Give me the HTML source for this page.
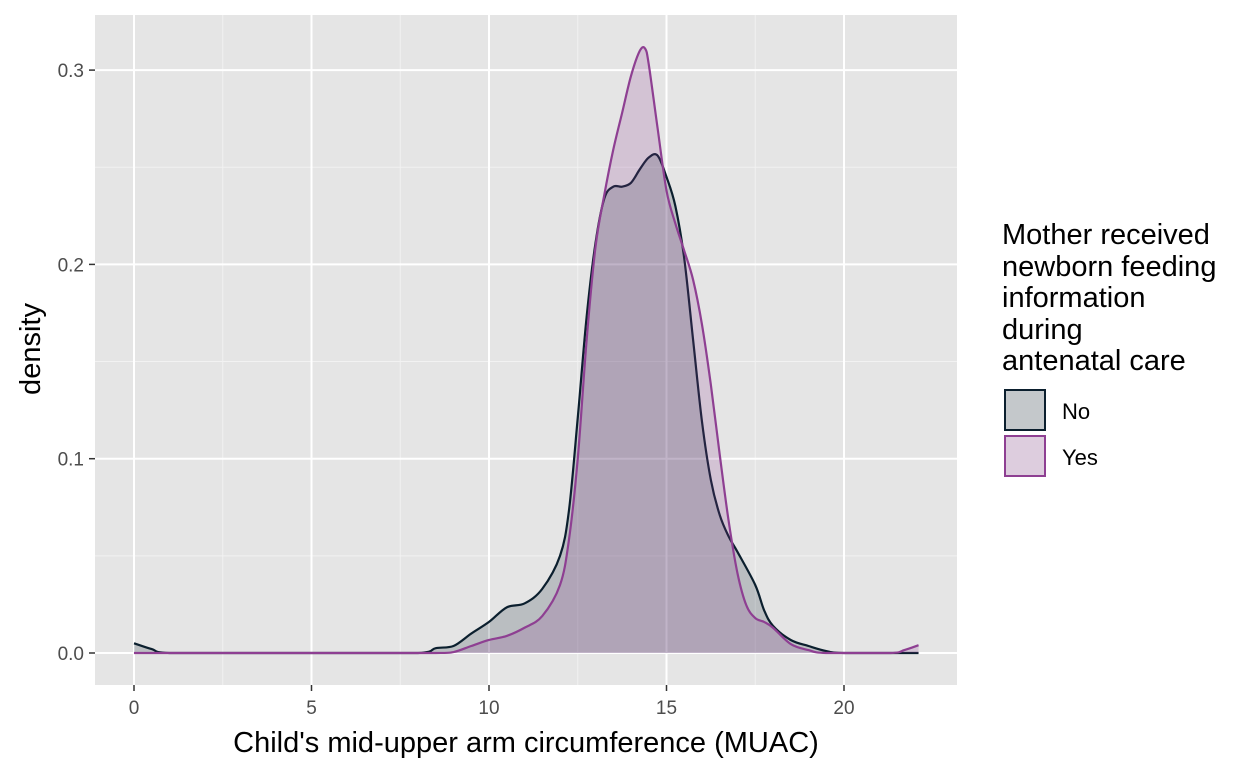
<!DOCTYPE html>
<html><head><meta charset="utf-8"><style>
body{margin:0;background:#fff;font-family:"Liberation Sans",Arial,sans-serif}
svg text{font-family:"Liberation Sans",Arial,sans-serif}
</style></head><body>
<svg id="chart" width="1248" height="768" viewBox="0 0 1248 768">
<rect x="95" y="15" width="862" height="670" fill="#e5e5e5"/>
<g id="grid"></g>
<g id="series"></g>
<g id="axes"></g>
<text x="526" y="752" font-size="29" text-anchor="middle" fill="#000">Child's mid-upper arm circumference (MUAC)</text>
<text transform="translate(40,349) rotate(-90)" font-size="29" text-anchor="middle" fill="#000">density</text>
<g>
<text font-size="29" fill="#000">
<tspan x="1002" y="244">Mother received</tspan><tspan x="1002" y="276">newborn feeding</tspan><tspan x="1002" y="307">information</tspan><tspan x="1002" y="339">during</tspan><tspan x="1002" y="370">antenatal care</tspan></text>
<rect x="1004" y="389" width="42" height="42" fill="#f2f2f2"/>
<rect x="1005" y="390" width="40" height="40" fill="rgba(13,34,51,0.2)" stroke="#0b1f2e" stroke-width="2"/>
<text x="1062" y="419" font-size="22">No</text>
<rect x="1004" y="435" width="42" height="42" fill="#f2f2f2"/>
<rect x="1005" y="436" width="40" height="40" fill="rgba(139,58,143,0.2)" stroke="#8e3f92" stroke-width="2"/>
<text x="1062" y="465" font-size="22">Yes</text>
</g>
</svg>
<script>
const xTicks=[0,5,10,15,20];
const yTicks=[0,0.1,0.2,0.3];
const yTickLabels=["0.0","0.1","0.2","0.3"];
const noX=[0,0.5,1,8,8.5,9,9.5,10,10.5,11,11.5,12,12.25,12.5,12.75,13,13.25,13.5,13.75,14,14.25,14.5,14.75,15,15.25,15.5,15.75,16,16.25,16.5,16.75,17,17.5,17.75,18,18.5,19,19.5,20,22.1];
const noY=[0.005,0.002,0,0,0.0025,0.0036,0.01,0.016,0.0235,0.0255,0.033,0.05,0.073,0.121,0.173,0.211,0.234,0.240,0.240,0.242,0.249,0.255,0.256,0.245,0.23,0.203,0.161,0.119,0.089,0.071,0.060,0.052,0.035,0.022,0.014,0.0067,0.0036,0.001,0,0];
const yesX=[0,8.5,9,9.5,10,10.5,11,11.5,12,12.25,12.5,12.75,13,13.25,13.5,13.75,14,14.25,14.4,14.5,14.75,15,15.25,15.5,15.75,16,16.25,16.5,16.75,17,17.25,17.5,17.75,18,18.5,19,19.5,21.3,21.7,22.1];
const yesY=[0,0,0.0005,0.0036,0.0067,0.0088,0.013,0.019,0.035,0.058,0.10,0.161,0.209,0.236,0.259,0.278,0.297,0.310,0.311,0.303,0.27,0.238,0.221,0.207,0.192,0.169,0.138,0.102,0.068,0.041,0.0245,0.018,0.016,0.013,0.0046,0.0015,0,0,0.0015,0.004];
const NS='http://www.w3.org/2000/svg';
const sx=v=>134+v*35.5, sy=v=>653-v*1943;
function mk(t,a,p){const e=document.createElementNS(NS,t);for(const k in a)e.setAttribute(k,a[k]);p.appendChild(e);return e;}
const grid=document.getElementById('grid'),axes=document.getElementById('axes'),ser=document.getElementById('series');
for(let i=0;i<xTicks.length-1;i++){const m=(xTicks[i]+xTicks[i+1])/2;const l=mk('line',{x1:sx(m),x2:sx(m),y1:15,y2:685,stroke:'#f2f2f2','stroke-width':1},grid);

}
for(let i=0;i<yTicks.length-1;i++){const m=(yTicks[i]+yTicks[i+1])/2;const l=mk('line',{x1:95,x2:957,y1:sy(m),y2:sy(m),stroke:'#f2f2f2','stroke-width':1},grid);

}
xTicks.forEach(v=>{const l=mk('line',{x1:sx(v),x2:sx(v),y1:15,y2:685,stroke:'#fff','stroke-width':2},grid);


const t=mk('line',{x1:sx(v),x2:sx(v),y1:685,y2:691,stroke:'#333','stroke-width':1.5},axes);


const tx=mk('text',{x:sx(v),y:714,'font-size':19,'text-anchor':'middle',fill:'#4d4d4d'},axes);tx.textContent=v;

});
yTicks.forEach((v,i)=>{const l=mk('line',{x1:95,x2:957,y1:sy(v),y2:sy(v),stroke:'#fff','stroke-width':2},grid);


const t=mk('line',{x1:89,x2:95,y1:sy(v),y2:sy(v),stroke:'#333','stroke-width':1.5},axes);


const tx=mk('text',{x:84,y:sy(v)+7,'font-size':19,'text-anchor':'end',fill:'#4d4d4d'},axes);tx.textContent=yTickLabels[i];

});
function smooth(xs,ys){const p=xs.map((x,i)=>[sx(x),sy(ys[i])]);let d='M'+p[0][0]+','+p[0][1];
for(let i=0;i<p.length-1;i++){const p0=p[Math.max(0,i-1)],p1=p[i],p2=p[i+1],p3=p[Math.min(p.length-1,i+2)];
const c1=[p1[0]+(p2[0]-p0[0])/6,p1[1]+(p2[1]-p0[1])/6],c2=[p2[0]-(p3[0]-p1[0])/6,p2[1]-(p3[1]-p1[1])/6];
c1[0]=Math.min(Math.max(c1[0],p1[0]),p2[0]);c2[0]=Math.min(Math.max(c2[0],p1[0]),p2[0]);
c1[1]=Math.min(c1[1],sy(0));c2[1]=Math.min(c2[1],sy(0));
d+=' C'+c1[0]+','+c1[1]+' '+c2[0]+','+c2[1]+' '+p2[0]+','+p2[1];}return d;}
function draw(xs,ys,fill,stroke,name){const d=smooth(xs,ys);
const a=mk('path',{d:d+' L'+sx(xs[xs.length-1])+','+sy(0)+' L'+sx(xs[0])+','+sy(0)+' Z',fill:fill},ser);


const l=mk('path',{d:d,fill:'none',stroke:stroke,'stroke-width':2.2},ser);

}
draw(noX,noY,'rgba(13,34,51,0.2)','#0b1f2e','density-no');
draw(yesX,yesY,'rgba(139,58,143,0.2)','#8e3f92','density-yes');
</script>
</body></html>
